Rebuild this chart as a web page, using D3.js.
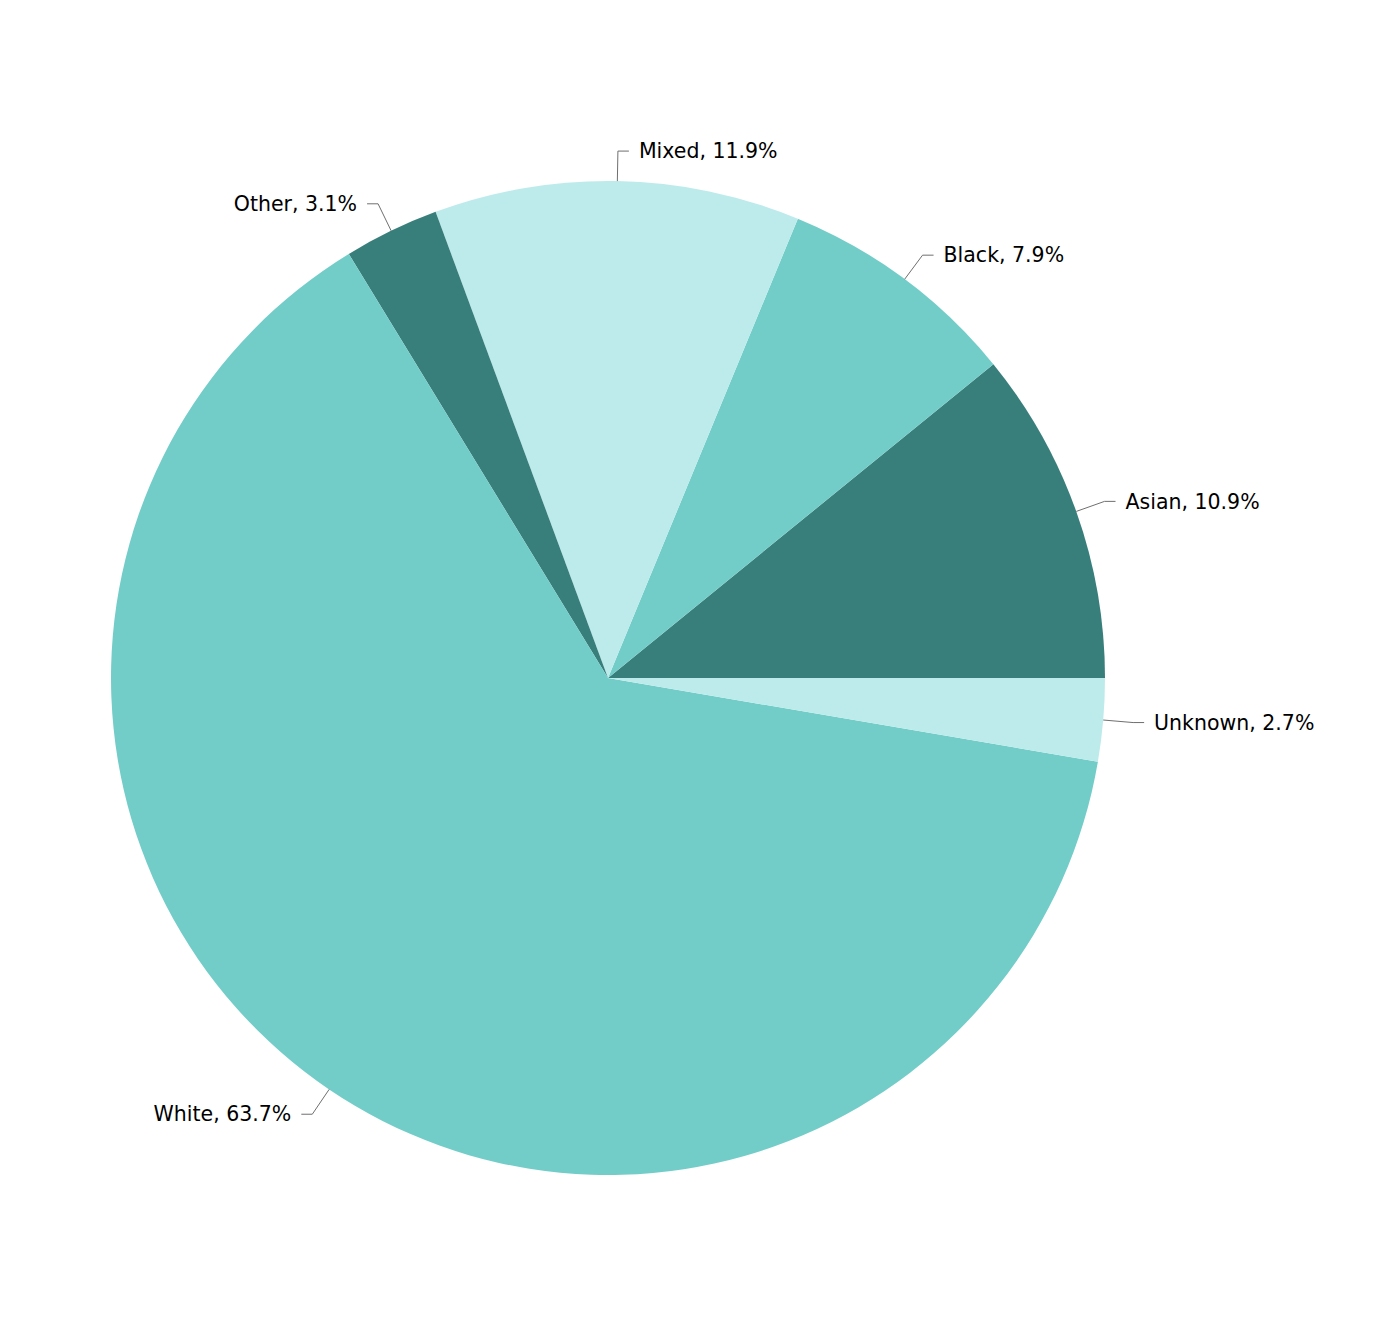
<!DOCTYPE html>
<html>
<head>
<meta charset="utf-8">
<script src="https://cdn.jsdelivr.net/npm/d3@7"></script>
<style>
  body { margin: 0; background: #fff; }
</style>
</head>
<body>
<script>
// data
var categories = ["Asian", "Black", "Mixed", "Other", "White", "Unknown"];
var values = [10.9, 7.9, 11.9, 3.1, 63.7, 2.7];
var colors = ["#387f7c", "#72cdc9", "#bdebec", "#387f7c", "#72cdc9", "#bdebec"];

var width = 1390, height = 1326;
var cx = 608, cy = 678, radius = 497;

var svg = d3.select("body").append("svg")
    .attr("width", width)
    .attr("height", height);

var g = svg.append("g").attr("transform", "translate(" + cx + "," + cy + ")");

var data = categories.map(function(c, i) { return {name: c, value: values[i], color: colors[i]}; });

// start at 3 o'clock, go counter-clockwise
var pie = d3.pie()
    .sort(null)
    .value(function(d) { return d.value; })
    .startAngle(Math.PI / 2)
    .endAngle(Math.PI / 2 - 2 * Math.PI);

var arc = d3.arc().innerRadius(0).outerRadius(radius);
var arcs = pie(data);

g.selectAll("path.slice")
  .data(arcs)
  .enter()
  .append("path")
    .attr("class", "slice")
    .attr("d", arc)
    .attr("fill", function(d) { return d.data.color; });

// labels with leader lines
var ext = 30, hor = 11, gap = 10;
arcs.forEach(function(d) {
  var a = (d.startAngle + d.endAngle) / 2;
  var sx = Math.sin(a), sy = -Math.cos(a);
  var x0 = sx * radius, y0 = sy * radius;
  var x1 = sx * (radius + ext), y1 = sy * (radius + ext);
  var right = sx >= 0;
  var x2 = x1 + (right ? hor : -hor);
  g.append("path")
    .attr("d", "M" + x0 + "," + y0 + "L" + x1 + "," + y1 + "L" + x2 + "," + y1)
    .attr("fill", "none")
    .attr("stroke", "#6f6f6f")
    .attr("stroke-width", 1);
  g.append("text")
    .attr("x", x2 + (right ? gap : -gap))
    .attr("y", y1)
    .attr("dy", "0.35em")
    .attr("text-anchor", right ? "start" : "end")
    .attr("font-family", "'DejaVu Sans', Verdana, sans-serif")
    .attr("font-size", "20.5px")
    .attr("fill", "#000")
    .text(d.data.name + ", " + d3.format(".1f")(d.data.value) + "%");
});
</script>
</body>
</html>
